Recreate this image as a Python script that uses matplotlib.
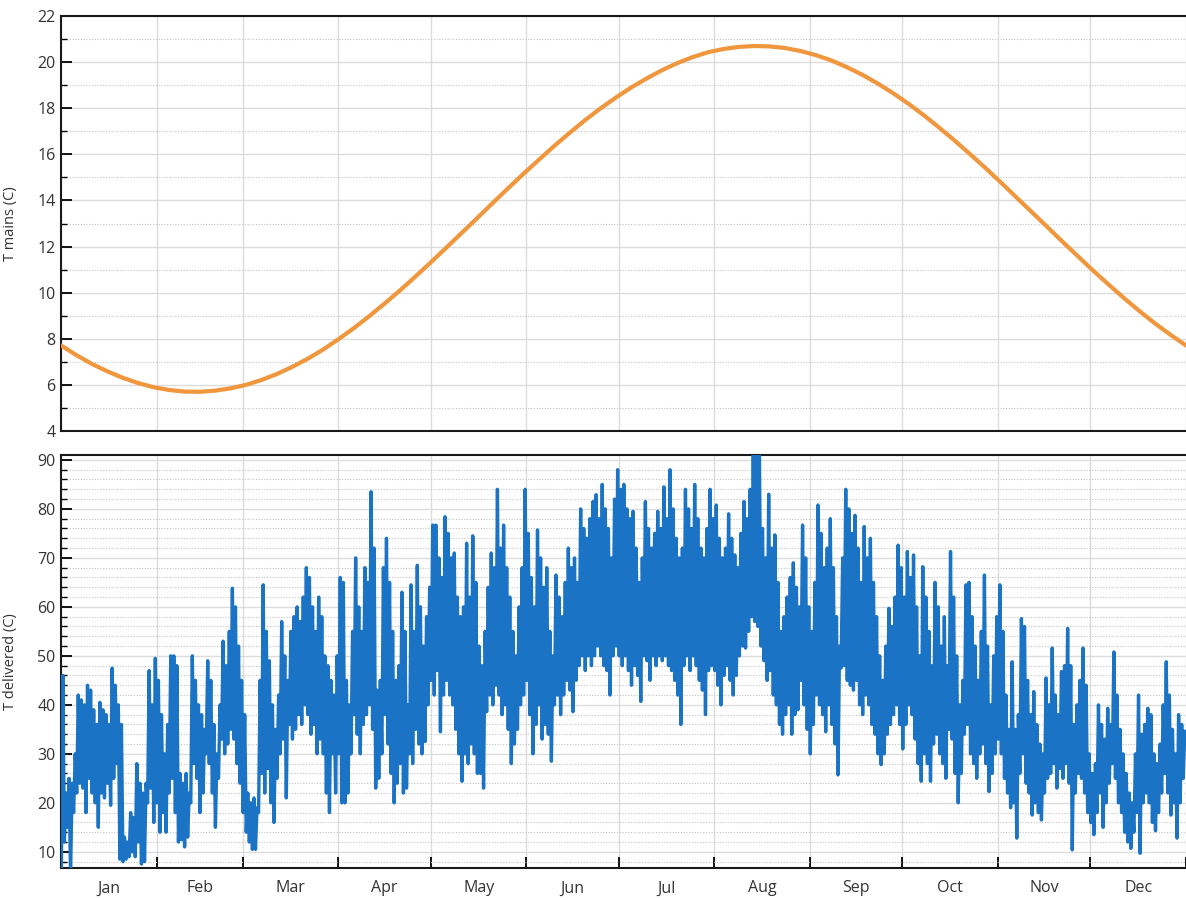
import numpy as np
import matplotlib
matplotlib.use("Agg")
import matplotlib.pyplot as plt
from matplotlib.ticker import MultipleLocator, FixedLocator, NullFormatter

plt.rcParams['font.family'] = ['Open Sans', 'DejaVu Sans']

# month boundaries (day of year) and labels
month_starts = [0, 31, 59, 90, 120, 151, 181, 212, 243, 273, 304, 334, 365]
month_names = ['Jan', 'Feb', 'Mar', 'Apr', 'May', 'Jun',
               'Jul', 'Aug', 'Sep', 'Oct', 'Nov', 'Dec']

# mains water temperature, every 5 days
mains_days = list(range(0, 366, 5))
mains_temp = [7.71, 7.29, 6.91, 6.59, 6.31, 6.08, 5.90, 5.78, 5.71, 5.70,
              5.75, 5.85, 6.00, 6.21, 6.47, 6.78, 7.13, 7.53, 7.98, 8.46,
              8.98, 9.53, 10.10, 10.70, 11.32, 11.95, 12.59, 13.23, 13.88, 14.52,
              15.15, 15.76, 16.36, 16.93, 17.48, 17.99, 18.46, 18.90, 19.29, 19.65,
              19.96, 20.22, 20.43, 20.57, 20.66, 20.70, 20.68, 20.61, 20.48, 20.30,
              20.07, 19.78, 19.45, 19.07, 18.65, 18.19, 17.69, 17.15, 16.59, 16.00,
              15.40, 14.77, 14.13, 13.49, 12.85, 12.20, 11.57, 10.94, 10.34, 9.75,
              9.19, 8.66, 8.17, 7.71]

# delivered temperature: daily high / low
deliv_high = [
    # Jan
    46, 22, 25, 24, 30, 42, 41, 40, 44, 43, 39, 36, 40.5, 39, 38, 36,
    47.5, 44, 40, 36, 13, 12, 18, 17, 28, 24, 22, 24, 47, 40, 49.5,
    # Feb
    45, 38, 30, 36, 50, 50, 48, 26, 24, 26, 22, 50, 45, 40, 38, 35,
    49, 45, 36, 30, 40, 53, 48, 55, 63.8, 60, 52, 45,
    # Mar
    38, 22, 20, 21, 19, 45, 64.5, 55, 49, 40, 35, 42, 57, 50, 45, 55,
    58, 60, 57, 62, 68, 66, 60, 55, 62, 58, 50, 48, 45, 42, 50,
    # Apr
    66, 65, 45, 40, 55, 70, 60, 55, 68, 65, 83.5, 72, 43, 45, 68,
    74, 65, 55, 45, 48, 63, 55, 40, 64.5, 55, 68.5, 60, 52, 58, 64,
    # May
    76.7, 76.7, 70, 66, 78.4, 75, 70, 71, 62, 58, 60, 73, 62, 74.5, 65,
    52, 48, 55, 64, 71, 68, 84, 72, 76.7, 68, 62, 55, 50, 60, 68, 84,
    # Jun
    75, 66, 60, 75.7, 70, 64, 68, 55, 50, 66.5, 62, 58, 65, 72, 68,
    70, 65, 80, 76, 74, 78, 81.5, 82.9, 78, 85, 80, 76, 70, 82, 88,
    # Jul
    84, 85, 80, 78, 79.5, 72, 65, 70, 81.5, 76, 72, 75, 79.5, 76, 84.5,
    78, 88, 80, 74, 70, 72, 84, 80, 76, 85, 78, 72, 70, 76, 84, 78,
    # Aug
    80.8, 74, 70, 72, 79, 74, 70.6, 68, 75, 81.5, 78, 84, 93, 93, 91,
    76, 70, 83, 72, 74.7, 65, 55, 58, 62, 66, 69, 64, 60, 76.7, 70, 60,
    # Sep
    55, 65, 80.8, 75, 68, 72, 78, 68, 58, 52, 70, 84, 80, 75, 78.7,
    72, 65, 76.4, 70, 74, 65, 58, 50, 45, 52, 59.7, 56, 62, 72.6, 68,
    # Oct
    62, 71.3, 66, 70.6, 60, 50, 68.2, 62, 55, 48, 65, 60, 52, 58, 48,
    71.3, 62, 50, 40, 45, 64.5, 65, 58, 52, 45, 55, 66.5, 52, 40, 50, 58,
    # Nov
    64.5, 55, 42, 35, 48.8, 35, 38, 57.6, 56, 45, 38, 42.7, 36, 32, 30,
    45.5, 40, 51.6, 42, 38, 46.8, 48, 55.6, 48, 36, 40, 45, 51.6, 44, 30,
    # Dec
    26, 28, 40, 36, 33, 39.3, 36, 50.8, 42, 35, 30, 26, 22, 20, 30, 42,
    34, 36, 39.3, 38, 30, 28, 32, 40, 48.8, 42, 35, 30, 38, 36, 34.6,
]
deliv_low = [
    # Jan
    5, 12, 15, 5, 18, 22, 24, 23, 18, 25, 22, 20, 15, 22, 21, 24,
    19.5, 25, 28, 8.5, 8, 8.5, 9, 10, 9, 12, 7.5, 8, 20, 23, 16,
    # Feb
    20, 14, 18, 14, 22, 25, 18, 12, 12.5, 11, 13, 20, 28, 25, 18, 22,
    30, 28, 22, 15, 25, 33, 30, 32, 35, 33, 28, 24,
    # Mar
    18, 14, 12, 10.5, 10.5, 18, 26, 22, 27, 20, 16, 25, 30, 33, 21, 36,
    33, 35, 38, 36, 40, 38, 34, 36, 30, 33, 30, 22, 18, 30, 22,
    # Apr
    30, 20, 20, 22, 30, 38, 34, 30, 36, 38, 40, 35, 23, 25, 30,
    38, 32, 26, 20, 24, 28, 22, 23, 30, 28, 35, 32, 30, 32.5, 40,
    # May
    45, 42, 47, 34.5, 42, 45, 42, 40, 35, 30, 24.4, 30, 28, 32, 30,
    26, 26, 23, 38.6, 42, 40, 44, 42, 38, 40, 35, 28, 32, 35, 40, 42,
    # Jun
    45, 38, 30, 36, 40, 33, 36, 34, 28.5, 40, 42, 38, 42, 45, 43,
    38.6, 45, 48, 50, 47, 50, 48, 50, 52, 50, 48, 47, 42, 50, 52,
    # Jul
    50, 48, 50, 47, 44, 48, 46, 40.7, 50, 49, 45, 50, 48, 50, 49,
    50, 48, 47, 45, 42, 36, 48, 50, 47, 50, 48, 45, 43, 38, 47, 48,
    # Aug
    47, 44, 40, 46, 48, 45, 42, 46, 50, 52, 51.6, 55, 58, 57, 56,
    52, 49, 45, 47, 42, 40, 36, 34, 38, 40, 34, 38, 39, 45, 40, 35,
    # Sep
    30, 36, 42, 40, 38, 34.5, 40, 36, 32, 25.7, 47.5, 48, 45, 44, 43,
    45, 40, 38, 42, 40, 36, 34, 30, 27.8, 30, 34, 36, 38, 40, 36,
    # Oct
    31, 36, 40, 38, 33, 28, 24.4, 30, 28, 24.4, 32, 34, 30, 28, 25,
    35, 33, 26, 20, 26, 34, 36, 30, 28, 25, 30, 32, 28, 22.3, 26, 30,
    # Nov
    33, 30, 25, 22, 19, 20, 12.8, 26, 30, 24, 22, 17.5, 20, 18, 16.5,
    22, 25, 26, 28, 23, 27, 25, 28, 24, 10.4, 22, 26, 25, 22, 18,
    # Dec
    16, 13.5, 18, 22, 15, 20, 24, 28, 25, 20, 18, 14, 12, 10.7, 14, 18,
    9.7, 20, 22, 20, 16, 14.3, 18, 22, 26, 22, 17.5, 20, 12.8, 20, 25,
]

# interleave low and high within each day
deliv_x = []
deliv_y = []
for d in range(len(deliv_high)):
    deliv_x += [d + 0.1, d + 0.6]
    deliv_y += [deliv_low[d], deliv_high[d]]

fig = plt.figure(figsize=(11.86, 9), dpi=100)
ax1 = fig.add_axes([61 / 1186, 1 - 431 / 900, 1 - 61 / 1186, 415 / 900])
ax2 = fig.add_axes([61 / 1186, 1 - 868 / 900, 1 - 61 / 1186, 413 / 900])

ax1.plot(mains_days, mains_temp, color='#F0963C', lw=3, solid_capstyle='round', zorder=3)
ax2.plot(deliv_x, deliv_y, color='#1A73C4', lw=2.4, zorder=3)

ax1.set_ylim(4, 22)
ax1.yaxis.set_major_locator(MultipleLocator(2))
ax1.yaxis.set_minor_locator(MultipleLocator(1))
ax2.set_ylim(6.7, 91)
ax2.yaxis.set_major_locator(MultipleLocator(10))
ax2.yaxis.set_minor_locator(MultipleLocator(2))

mid_months = [(month_starts[i] + month_starts[i + 1]) / 2 for i in range(12)]

for ax in (ax1, ax2):
    ax.set_xlim(0, 365)
    ax.xaxis.set_major_locator(FixedLocator(month_starts))
    ax.xaxis.set_major_formatter(NullFormatter())
    ax.xaxis.set_minor_locator(FixedLocator(mid_months))
    ax.grid(True, which='major', axis='both', color='#dcdcdc', lw=1.0, zorder=0)
    ax.grid(True, which='minor', axis='y', color='#c4c4c4', lw=0.8, ls=(0, (1, 1.5)), zorder=0)
    ax.spines['right'].set_visible(False)
    for s in ('left', 'top', 'bottom'):
        ax.spines[s].set_linewidth(1.5)
        ax.spines[s].set_color('#1a1a1a')
    ax.tick_params(axis='y', which='major', direction='in', length=8, width=1.3,
                   labelsize=11.5, labelcolor='#333333', pad=4)
    ax.tick_params(axis='y', which='minor', direction='in', length=4, width=1.0)
    ax.set_axisbelow(True)

ax1.tick_params(axis='x', which='both', length=0, labelbottom=False)
ax2.tick_params(axis='x', which='major', direction='in', length=8, width=1.3)
ax2.tick_params(axis='x', which='minor', length=0, labelsize=11.5,
                labelcolor='#333333', pad=9)
ax2.set_xticklabels(month_names, minor=True)

ax1.set_ylabel('T mains (C)', fontsize=10.5, color='#333333')
ax2.set_ylabel('T delivered (C)', fontsize=10.5, color='#333333')
ax1.yaxis.set_label_coords(-0.038, 0.5)
ax2.yaxis.set_label_coords(-0.038, 0.5)

fig.savefig('out.png', dpi=100)
